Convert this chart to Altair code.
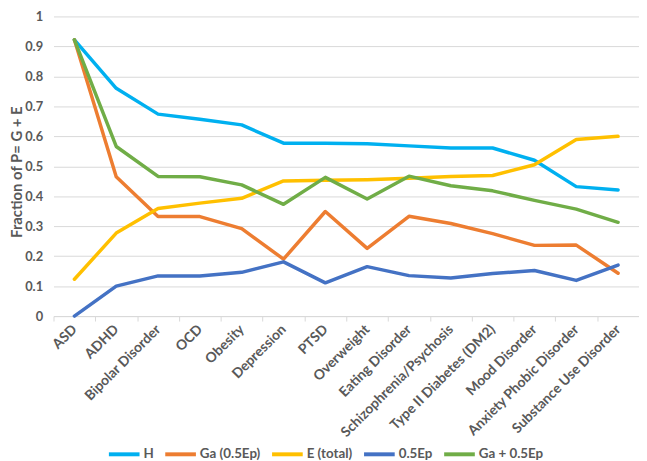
import altair as alt
import pandas as pd

categories = ["ASD", "ADHD", "Bipolar Disorder", "OCD", "Obesity", "Depression", "PTSD",
              "Overweight", "Eating Disorder", "Schizophrenia/Psychosis",
              "Type II Diabetes (DM2)", "Mood Disorder", "Anxiety Phobic Disorder",
              "Substance Use Disorder"]
series_names = ["H", "Ga (0.5Ep)", "E (total)", "0.5Ep", "Ga + 0.5Ep"]
colors = ["#00B0F0", "#ED7D31", "#FFC000", "#4472C4", "#70AD47"]

H = [0.922, 0.760, 0.674, 0.657, 0.638, 0.577, 0.577, 0.575, 0.568, 0.561, 0.561, 0.520, 0.432, 0.421]
Ga = [0.922, 0.465, 0.332, 0.332, 0.292, 0.190, 0.349, 0.226, 0.333, 0.309, 0.275, 0.236, 0.237, 0.143]
E = [0.123, 0.277, 0.359, 0.377, 0.393, 0.451, 0.453, 0.455, 0.460, 0.466, 0.469, 0.505, 0.589, 0.600]
Ep = [0.0, 0.100, 0.134, 0.134, 0.146, 0.181, 0.111, 0.165, 0.135, 0.127, 0.142, 0.152, 0.119, 0.170]
GaEp = [0.922, 0.566, 0.466, 0.465, 0.438, 0.373, 0.463, 0.391, 0.467, 0.435, 0.418, 0.386, 0.357, 0.313]
y_ticks = [0, 0.1, 0.2, 0.3, 0.4, 0.5, 0.6, 0.7, 0.8, 0.9, 1.0]

rows = []
for si, (name, vals) in enumerate(zip(series_names, [H, Ga, E, Ep, GaEp])):
    for ci, (c, v) in enumerate(zip(categories, vals)):
        rows.append({"category": c, "value": v, "series": name, "order": si})
df = pd.DataFrame(rows)

FONT = "Lato"
GRAY = "#595959"

chart = alt.Chart(df).mark_line(strokeWidth=3.5, strokeCap="round", strokeJoin="round").encode(
    x=alt.X("category:N", sort=categories,
            scale=alt.Scale(type="band", paddingInner=0, paddingOuter=0),
            axis=alt.Axis(title=None, labelAngle=-45, labelAlign="right", labelBaseline="middle",
                          labelPadding=6, labelFont=FONT, labelFontSize=14, labelFontWeight="bold",
                          labelColor=GRAY, domainColor="#D9D9D9", tickColor="#D9D9D9",
                          tickSize=5, tickBand="extent", grid=False, labelOverlap=False)),
    y=alt.Y("value:Q", scale=alt.Scale(domain=[0, 1], nice=False, zero=True),
            axis=alt.Axis(title="Fraction of P= G + E", values=y_ticks, format="~g",
                          domain=False, ticks=False, labelPadding=11,
                          labelFont=FONT, labelFontSize=13, labelFontWeight="bold", labelColor=GRAY,
                          titleFont=FONT, titleFontSize=15, titleFontWeight="bold", titleColor=GRAY,
                          titleAngle=270, titleX=-37, titleY=157, titleAlign="center",
                          titleBaseline="middle", gridColor="#D9D9D9", gridWidth=1)),
    color=alt.Color("series:N", sort=series_names,
                    scale=alt.Scale(domain=series_names, range=colors),
                    legend=alt.Legend(title=None, orient="none", direction="horizontal",
                                      legendX=54, legendY=425, columns=5,
                                      symbolType="stroke", symbolSize=961, symbolStrokeWidth=4,
                                      labelFont=FONT, labelFontSize=13.5, labelFontWeight="bold",
                                      labelColor=GRAY, labelOffset=2, columnPadding=3)),
    order=alt.Order("order:Q"),
).properties(
    width=592, height=303,
    autosize=alt.AutoSizeParams(type="none"),
    padding={"left": 46, "top": 6, "right": 0, "bottom": 144},
).configure_view(stroke=None)

chart.save("out.html", embed_options={"renderer": "svg", "actions": False})
